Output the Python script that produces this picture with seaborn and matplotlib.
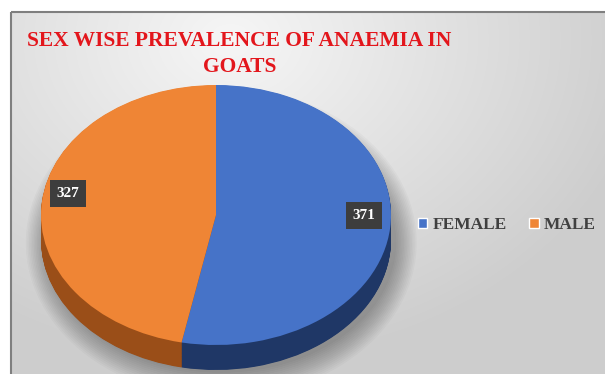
import numpy as np
import matplotlib
matplotlib.use("Agg")
import matplotlib.pyplot as plt
from matplotlib.patches import Patch, Ellipse
import seaborn as sns

# ---- data ----
categories = ["FEMALE", "MALE"]
counts = [371, 327]
label_texts = ["371", "327"]
title_text = "SEX WISE PREVALENCE OF ANAEMIA IN\nGOATS"

top_colors = ["#4673C8", "#EF8535"]
side_colors = ["#1F3766", "#9A4E18"]

sns.set_theme(style="white")
plt.rcParams['font.family'] = ['Liberation Serif', 'DejaVu Serif']
SERIF = ['Liberation Serif', 'DejaVu Serif']

W, H = 605, 374
fig = plt.figure(figsize=(W / 100, H / 100), dpi=100)
fig.patch.set_facecolor("white")

# background panel with soft gradient
bg = fig.add_axes([0, 0, 1, 1])
bg.set_xlim(0, W)
bg.set_ylim(H, 0)
bg.axis("off")
yy, xx = np.mgrid[12:H, 11:W]
d = np.hypot(xx - 230, (yy - 40) * 1.3)
v = 0.965 - 0.16 * np.clip(d / 420, 0, 1)
bg.imshow(np.dstack([v, v, v]), extent=(11, W, H, 12), aspect="auto", zorder=0)
bg.plot([11, 11], [H, 12], color="#7f7f7f", lw=1.5, zorder=1, solid_capstyle="butt")
bg.plot([11, W], [12, 12], color="#7f7f7f", lw=1.5, zorder=1, solid_capstyle="butt")

bg.text(239.5, 54, title_text, ha="center", va="center", fontsize=15.5,
        family=SERIF, fontweight="bold", color="#E3161C", linespacing=1.38, zorder=3)

# pie axes: unit circle -> ellipse centred at (216, 215) px with rx=175, ry=130
cx, cy, rx, ry = 216, 215, 175, 130
pax = fig.add_axes([0, 0, 1, 1])
pax.patch.set_alpha(0)
depth = 25 / ry

# soft shadow
for i in range(14):
    e = Ellipse((0.03, -depth - 0.02), 2.0 + i * 0.018, 2.0 + i * 0.03,
                color="black", alpha=0.025, lw=0)
    pax.add_patch(e)

for k in np.linspace(-depth, 0, 45)[:-1]:
    pax.pie(counts, colors=side_colors, startangle=90, counterclock=False,
            center=(0, k), radius=1, wedgeprops=dict(linewidth=0))

wedges, _ = pax.pie(counts, colors=top_colors, startangle=90, counterclock=False,
                    radius=1, wedgeprops=dict(linewidth=0))

pax.set_aspect("auto")
pax.set_xlim(-cx / rx, (W - cx) / rx)
pax.set_ylim(-(H - cy) / ry, cy / ry)
pax.axis("off")

total = sum(counts)
cum = np.cumsum(counts)
for c, val, txt in zip(cum, counts, label_texts):
    ang = np.deg2rad(90 - 360 * (c - val / 2) / total)
    r = 0.85
    pax.text(r * np.cos(ang), r * np.sin(ang) + 0.08, txt, ha="center", va="center",
             color="white", fontsize=11, fontweight="bold", family=SERIF,
             bbox=dict(boxstyle="square,pad=0.45", fc="#3d3d3d", ec="none"))

handles = [Patch(facecolor=col, label=lab) for col, lab in zip(top_colors, categories)]
fig.legend(handles=handles, loc="center left", bbox_to_anchor=(402 / W, 1 - 225 / H),
           ncol=2, frameon=False, handlelength=0.55, handleheight=0.55,
           handletextpad=0.3, columnspacing=1.3, labelcolor="#404040",
           prop=dict(family=SERIF, weight="bold", size=12.5))

fig.savefig("out.png", dpi=100)
